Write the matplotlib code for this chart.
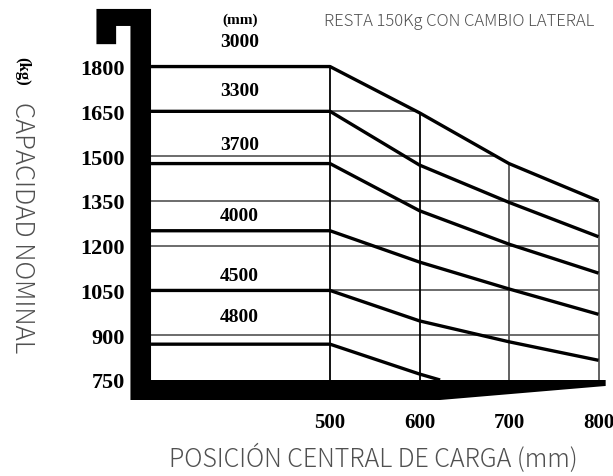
import matplotlib
matplotlib.use("Agg")
import matplotlib.pyplot as plt
import numpy as np
from matplotlib.patches import Polygon

# ---------------- data ----------------
x_pos = [300, 500, 600, 700, 800]          # load centre (mm)
mast_labels = ["3000", "3300", "3700", "4000", "4500", "4800"]
cap_3000 = [1800, 1800, 1645, 1475, 1350]
cap_3300 = [1650, 1650, 1470, 1345, 1230]
cap_3700 = [1475, 1475, 1317, 1205, 1108]
cap_4000 = [1250, 1250, 1145, 1055, 970]
cap_4500 = [1050, 1050, 948, 878, 816]
x_4800 = [300, 500, 600, 623]
cap_4800 = [870, 870, 770, 750]
y_ticks = [750, 900, 1050, 1200, 1350, 1500, 1650, 1800]
x_ticks = [500, 600, 700, 800]
label_y = [1885, 1721, 1540, 1302, 1101, 964]

W, H = 613, 477
fig = plt.figure(figsize=(W / 100, H / 100), dpi=100)
fig.patch.set_facecolor("white")

# axes area in pixels: left 130, bottom 401, right 613, top 0
ax = fig.add_axes([130 / W, 1 - 401 / H, 1 - 130 / W, 401 / H])
ax.set_xlim(276.5, 816.2)
ax.set_ylim(683, 2026.3)
for s in ax.spines.values():
    s.set_visible(False)
ax.set_facecolor("none")

serif = dict(family="Liberation Serif", weight="bold")
sans = dict(family=["Noto Sans CJK JP", "DejaVu Sans"], weight="light")

ax.set_yticks(y_ticks)
ax.set_yticklabels([str(v) for v in y_ticks], fontdict=dict(size=16, **serif))
ax.set_xticks(x_ticks)
ax.set_xticklabels([str(v) for v in x_ticks], fontdict=dict(size=15, **serif))
ax.tick_params(axis="y", length=0, pad=3.6)
ax.tick_params(axis="x", length=0, pad=8.5)

env_x = np.array(x_pos, dtype=float)
env_y = np.array(cap_3000, dtype=float)

# horizontal grid lines clipped by the outer envelope (3000 curve)
for v in y_ticks[1:]:
    xe = np.interp(v, env_y[::-1][:-1], env_x[::-1][:-1]) if v > env_y[-1] else 800
    ax.plot([300, xe], [v, v], color="#444444", lw=1.1, zorder=2, solid_capstyle="butt")

# vertical grid lines from bottom bar up to the envelope
for xv in x_ticks:
    top = np.interp(xv, env_x, env_y)
    col = "black" if xv < 700 else "#555555"
    ax.plot([xv, xv], [750, top], color=col, lw=1.3, zorder=2, solid_capstyle="butt")

# capacity curves
for ys in [cap_3000, cap_3300, cap_3700, cap_4000, cap_4500]:
    ax.plot(x_pos, ys, color="black", lw=2.4, zorder=3, solid_capstyle="butt")
ax.plot(x_4800, cap_4800, color="black", lw=2.4, zorder=3, solid_capstyle="butt")

# mast height labels
for lab, ly in zip(mast_labels, label_y):
    ax.text(399, ly, lab, ha="center", va="center", size=14, **serif)
ax.text(399, 1959, "(mm)", ha="center", va="center", size=11, **serif)

# decorative frame (hook + axes bars)
frame = [(239, 1875), (239, 1993), (300, 1993), (300, 750), (808, 750),
         (808, 730), (623, 683), (277, 683), (277, 1936), (261, 1936), (261, 1875)]
ax.add_patch(Polygon(frame, closed=True, facecolor="black", edgecolor="none",
                     zorder=4, clip_on=False))

# texts
fig.text(459 / W, 1 - 22 / H, "RESTA 150Kg CON CAMBIO LATERAL", ha="center",
         va="center", size=12, color="#505050", **sans)
fig.text(373 / W, 1 - 458 / H, "POSICIÓN CENTRAL DE CARGA (mm)", ha="center",
         va="center", size=18, color="#505050", **sans)
fig.text(22 / W, 1 - 71 / H, "(kg)", ha="center", va="center", rotation=-90,
         size=12, color="black", **serif)
fig.text(22 / W, 1 - 228 / H, "CAPACIDAD NOMINAL", ha="center", va="center",
         rotation=-90, size=18.5, color="#505050", **sans)

fig.savefig("out.png", dpi=100, facecolor="white")
